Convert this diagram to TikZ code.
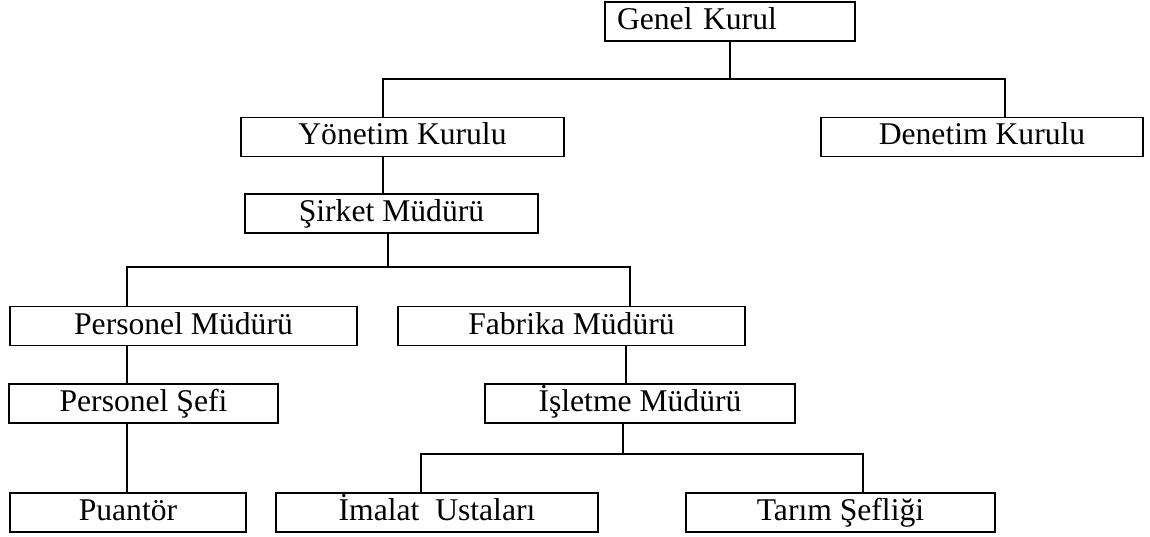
\documentclass[tikz,border=0pt]{standalone}
\usepackage{fontspec}
\setmainfont{Liberation Serif}
\usepackage{tikz}
\usetikzlibrary{positioning}
\tikzstyle{unit} = [rectangle, 
draw=black, 
line width=1.1pt, 
minimum height=0.78cm, 
inner sep=0pt, 
text height=0.44cm, 
text depth=0.12cm, 
text centered, 
font=\fontsize{18}{20}\selectfont]
\tikzstyle{link} = [line width=1.1pt]

\begin{document}
\begin{tikzpicture}[x=0.02cm, y=-0.02cm]
        \useasboundingbox (0,0) rectangle (1150,537);
        % Kutular
        \node (genel) [unit, minimum width=5cm, text width=4.52cm, inner xsep=0.24cm, align=left] at (730,21.5) {Genel Kurul};
        \node (yonetim) [unit, minimum width=6.46cm] at (402.5,137) {Yönetim Kurulu};
        \node (denetim) [unit, minimum width=6.44cm] at (982,137) {Denetim Kurulu};
        \node (sirket) [unit, minimum width=5.86cm] at (391.5,213.5) {Şirket Müdürü};
        \node (persmud) [unit, minimum width=6.94cm] at (183.5,326) {Personel Müdürü};
        \node (fabrika) [unit, minimum width=6.94cm] at (571.5,326) {Fabrika Müdürü};
        \node (perssef) [unit, minimum width=5.38cm] at (143.5,403.5) {Personel Şefi};
        \node (isletme) [unit, minimum width=6.2cm] at (640,403.5) {İşletme Müdürü};
        \node (puantor) [unit, minimum width=4.72cm] at (128,512.5) {Puantör};
        \node (imalat) [unit, minimum width=6.44cm] at (437,512.5) {İmalat~ Ustaları};
        \node (tarim) [unit, minimum width=6.18cm] at (840.5,512.5) {Tarım Şefliği};

        % Dikey hatlar ve baralar
        \coordinate (bus1) at (730,79);
        \coordinate (bus2) at (388,267);
        \coordinate (bus3) at (623,454);
        \coordinate (colA) at (127,0);
        \coordinate (colB) at (383,0);
        \coordinate (colD) at (1005,0);
        \coordinate (colF) at (630,0);
        \coordinate (colI) at (421,0);
        \coordinate (colT) at (863,0);

        % Genel Kurul -> kurullar
        \draw [link] (genel.south) -- (bus1);
        \draw [link] (yonetim.north -| colB) |- (bus1) -| (denetim.north -| colD);
        \draw [link] (yonetim.south -| colB) -- (sirket.north -| colB);

        % Şirket Müdürü -> müdürler
        \draw [link] (sirket.south -| bus2) -- (bus2);
        \draw [link] (persmud.north -| colA) |- (bus2) -| (fabrika.north -| colF);
        \draw [link] (persmud.south -| colA) -- (perssef.north -| colA);
        \draw [link] (perssef.south -| colA) -- (puantor.north -| colA);
        \draw [link] ([xshift=1.09cm]fabrika.south) -- ([xshift=1.09cm]fabrika.south |- isletme.north);

        % İşletme Müdürü -> alt birimler
        \draw [link] (isletme.south -| bus3) -- (bus3);
        \draw [link] (imalat.north -| colI) |- (bus3) -| (tarim.north -| colT);

    \end{tikzpicture}
\end{document}
